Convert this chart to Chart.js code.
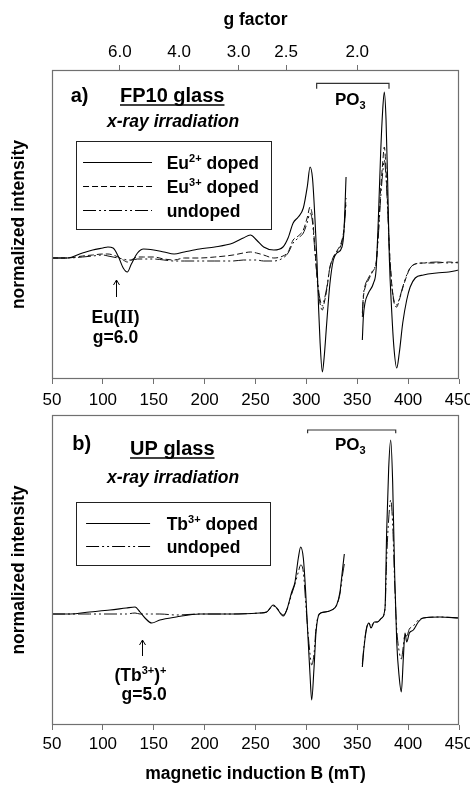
<!DOCTYPE html>
<html><head><meta charset="utf-8">
<script src="https://cdn.jsdelivr.net/npm/chart.js@4.4.1/dist/chart.umd.min.js"></script>
<style>
html,body{margin:0;padding:0;background:#fff;}
#wrap{position:relative;width:470px;height:785px;overflow:hidden;background:#fff;}
#ca{position:absolute;left:0;top:0;}
#cb{position:absolute;left:0;top:405px;}
</style></head><body>
<div id="wrap"><canvas id="ca" width="470" height="415"></canvas><canvas id="cb" width="470" height="380"></canvas></div>
<script>
// ---------- data: panel a) FP10 glass ----------
const fieldA = [50,65,80,90,100,105,110,115,120,124,128,134,140,150,160,170,180,195,210,228,238,245,251,258,268,277,282,287,292,297,301,303.6,306,308.5,310.5,312,313.5,315.7,317.5,320,323,326.5,330,335,337,339,347,355,356,357.6,361,366,368.5,370.7,373,375,376.6,378.3,380,381.5,383.8,386,388.8,391.3,394.7,398.6,402,407,415,428,440,450];
const eu2Doped = [0.00,0.00,0.05,0.08,0.10,0.11,0.10,0.02,-0.10,-0.14,
  -0.06,0.05,0.09,0.08,0.06,0.04,0.06,0.09,0.11,0.15,
  0.20,0.23,0.18,0.11,0.08,0.11,0.20,0.35,0.41,0.50,
  0.72,0.91,0.80,0.38,-0.05,-0.50,-0.85,-1.14,-0.99,-0.65,
  -0.27,-0.02,0.05,0.11,0.28,0.81,null,-0.82,-0.59,-0.45,
  -0.35,-0.25,-0.12,0.38,1.05,1.48,1.66,1.38,0.71,0.01,
  -0.52,-0.89,-1.10,-0.95,-0.65,-0.42,-0.29,-0.20,-0.17,-0.15,
  -0.14,-0.12];
const eu3Doped = [0.00,0.00,0.02,0.03,0.04,0.04,0.03,0.01,-0.02,-0.04,
  -0.02,0.01,0.01,0.01,-0.01,-0.02,0.00,0.00,0.01,0.03,
  0.05,0.06,0.05,0.03,0.00,0.02,0.06,0.18,0.22,0.28,
  0.41,0.51,0.41,0.08,-0.20,-0.36,-0.46,-0.52,-0.45,-0.32,
  -0.10,0.01,0.07,0.18,0.30,0.60,null,-0.59,-0.40,-0.30,
  -0.22,-0.12,-0.06,0.25,0.68,0.95,1.11,0.88,0.50,0.12,
  -0.25,-0.44,-0.49,-0.42,-0.30,-0.18,-0.10,-0.06,-0.05,-0.05,
  -0.04,-0.05];
const undopedA = [0.00,0.00,0.01,0.02,0.03,0.02,0.01,0.00,-0.01,-0.02,
  -0.02,-0.01,-0.01,-0.01,-0.02,-0.03,-0.03,-0.03,-0.03,-0.03,
  -0.02,-0.02,-0.02,-0.03,-0.03,0.00,0.05,0.15,0.20,0.25,
  0.36,0.45,0.36,0.05,-0.18,-0.32,-0.42,-0.48,-0.42,-0.30,
  -0.10,0.00,0.06,0.16,0.28,0.55,null,-0.55,-0.38,-0.28,
  -0.20,-0.11,-0.05,0.22,0.60,0.85,0.98,0.80,0.45,0.10,
  -0.25,-0.42,-0.47,-0.41,-0.29,-0.17,-0.10,-0.06,-0.05,-0.04,
  -0.05,-0.04];

// ---------- data: panel b) UP glass ----------
const fieldB = [50,68,87,107,123,131.6,136.5,141.4,148,156,172,195,228,254,261,267.5,270.8,277.3,280.7,285.6,288.8,292.1,294.4,297,299.3,301.3,303.6,305.2,307.5,309.5,312.7,318.3,324.9,329.8,333,335.7,337.3,346,355,356.6,359.3,361.5,363.5,366.8,369.7,374,377.3,378.9,380.9,382.9,384.8,386.8,388.8,391.3,393.3,395.3,396.9,398.6,401.2,405.1,410,414.9,431.3,450];
const tb3Doped = [0.00,0.00,0.02,0.04,0.06,0.07,0.02,-0.04,-0.09,-0.06,
  -0.03,0.00,0.00,0.01,0.02,0.09,0.06,-0.02,0.04,0.22,
  0.32,0.56,0.67,0.56,0.22,-0.18,-0.61,-0.86,-0.54,-0.18,
  0.00,0.02,0.04,0.09,0.22,0.46,0.60,null,-0.53,-0.34,
  -0.14,-0.09,-0.14,-0.08,-0.08,-0.04,0.06,0.82,1.46,1.74,
  1.32,0.39,-0.28,-0.64,-0.78,-0.44,-0.19,-0.28,-0.19,-0.16,
  -0.08,-0.04,-0.03,-0.04];
const undopedB = [0.00,0.00,0.00,0.00,0.00,0.01,0.00,0.00,0.00,0.00,
  -0.01,0.00,0.00,0.01,0.02,0.08,0.06,-0.01,0.04,0.20,
  0.30,0.42,0.49,0.42,0.12,-0.15,-0.40,-0.51,-0.40,-0.14,
  0.00,0.02,0.04,0.09,0.20,0.40,0.50,null,-0.50,-0.32,
  -0.13,-0.09,-0.12,-0.08,-0.08,-0.04,0.05,0.55,0.95,1.14,
  0.90,0.30,-0.15,-0.38,-0.45,-0.32,-0.20,-0.22,-0.15,-0.12,
  -0.06,-0.04,-0.03,-0.04];

// ---------- ticks ----------
const fieldTicks = [50,100,150,200,250,300,350,400,450];
const gTickLabels = [6.0,4.0,3.0,2.5,2.0];
const G_FIELD = 700; // B (mT) = 700 / g  (X-band)

// ---------- styling ----------
const SANS = "'Liberation Sans', Arial, Helvetica, sans-serif";
const SERIF = "'Liberation Serif', 'Times New Roman', serif";
const AXIS_GREY = '#707070';
const DASH = [6,3];
const DASHDOTDOT = [13,3,2,3,2,3];
Chart.defaults.font.family = SANS;
Chart.defaults.color = '#000';

const bold = s => `bold ${s}px ${SANS}`;
const boldItalic = s => `italic bold ${s}px ${SANS}`;

function pts(xs, ys){ return xs.map((x,i)=>({x:x, y:ys[i]})); }

function drawRuns(ctx, runs, x, y, align){
  let w = 0;
  runs.forEach(r=>{ ctx.font = r.f; r.w = ctx.measureText(r.t).width; w += r.w; });
  let cx = align === 'center' ? x - w/2 : x;
  const left = cx;
  runs.forEach(r=>{ ctx.font = r.f; ctx.fillText(r.t, cx, y + (r.dy||0)); cx += r.w; });
  return {left:left, width:w};
}

const eprPlugin = {
  id:'epr',
  afterDraw(chart, args, o){
    const ctx = chart.ctx, xs = chart.scales.x, ys = chart.scales.y;
    const X = v => xs.getPixelForValue(v), Y = v => ys.getPixelForValue(v);
    const ca = chart.chartArea;
    ctx.save();
    // frame
    ctx.strokeStyle = AXIS_GREY; ctx.lineWidth = 1.2; ctx.setLineDash([]);
    ctx.strokeRect(Math.round(ca.left)+0.5, Math.round(ca.top)+0.5,
      Math.round(ca.right)-Math.round(ca.left)-1, Math.round(ca.bottom)-Math.round(ca.top)-1);
    ctx.fillStyle = '#000'; ctx.textBaseline = 'alphabetic'; ctx.textAlign = 'left';
    // texts
    (o.texts||[]).forEach(t=>{
      const r = drawRuns(ctx, t.runs, X(t.x), Y(t.y), t.align);
      if (t.underline){
        ctx.strokeStyle = '#000'; ctx.lineWidth = 1.6;
        ctx.beginPath(); ctx.moveTo(r.left, Y(t.y)+3); ctx.lineTo(r.left + r.width, Y(t.y)+3); ctx.stroke();
      }
    });
    // bracket
    if (o.bracket){
      const b = o.bracket;
      ctx.strokeStyle = '#333'; ctx.lineWidth = 1.2;
      ctx.beginPath();
      ctx.moveTo(X(b.x1), Y(b.y2)); ctx.lineTo(X(b.x1), Y(b.y1));
      ctx.lineTo(X(b.x2), Y(b.y1)); ctx.lineTo(X(b.x2), Y(b.y2));
      ctx.stroke();
    }
    // arrow
    if (o.arrow){
      const a = o.arrow, ax = Math.round(X(a.x))+0.5, t = Y(a.y1), e = Y(a.y2);
      ctx.strokeStyle = '#000'; ctx.lineWidth = 1;
      ctx.beginPath(); ctx.moveTo(ax, t); ctx.lineTo(ax, e);
      ctx.moveTo(ax-3, t+5); ctx.lineTo(ax, t); ctx.lineTo(ax+3, t+5);
      ctx.stroke();
    }
    // legend
    if (o.legend){
      const L = o.legend;
      ctx.strokeStyle = '#222'; ctx.lineWidth = 1;
      const lx = Math.round(X(L.x1))+0.5, ly = Math.round(Y(L.y1))+0.5;
      ctx.strokeRect(lx, ly, Math.round(X(L.x2)-X(L.x1)), Math.round(Y(L.y2)-Y(L.y1)));
      L.rows.forEach(r=>{
        const ds = chart.data.datasets[r.ds];
        const ry = Math.round(Y(r.y))+0.5;
        ctx.strokeStyle = '#000'; ctx.lineWidth = 1;
        ctx.setLineDash(ds.borderDash || []);
        ctx.beginPath(); ctx.moveTo(X(L.s1), ry); ctx.lineTo(X(L.s2), ry); ctx.stroke();
        ctx.setLineDash([]);
        drawRuns(ctx, r.runs, X(L.tx), ry + 6, 'left');
      });
    }
    ctx.restore();
  }
};

function sup(t){ return {t:t, f:bold(11), dy:-7}; }
function sub(t){ return {t:t, f:bold(11), dy:4}; }
function b(t,s){ return {t:t, f:bold(s||17.5)}; }

function baseOptions(yMin, yMax, bottomH, tickPad, withXTitle, padTop){
  return {
    responsive:false, animation:false, devicePixelRatio:1,
    layout:{padding:{left:0,right:11,top:padTop,bottom:0}},
    elements:{point:{radius:0}, line:{borderWidth:1, borderColor:'#000', cubicInterpolationMode:'monotone'}},
    plugins:{legend:{display:false}, tooltip:{enabled:false}},
    scales:{
      x:{type:'linear', position:'bottom', min:50, max:450,
        afterBuildTicks(s){ s.ticks = fieldTicks.map(v=>({value:v})); },
        ticks:{font:{size:17}, padding:tickPad, maxRotation:0, autoSkip:false, color:'#000'},
        grid:{display:true, drawOnChartArea:false, drawTicks:true, tickLength:5, color:AXIS_GREY},
        border:{display:false},
        title:{display:withXTitle, text:'magnetic induction B (mT)', font:{size:17.5, weight:'bold'}, padding:{top:0,bottom:0}},
        afterFit(s){ s.height = bottomH; s.paddingLeft = 0; s.paddingRight = 0; }
      },
      y:{type:'linear', min:yMin, max:yMax,
        ticks:{display:false}, grid:{display:false}, border:{display:false},
        title:{display:true, text:'normalized intensity', font:{size:17.5, weight:'bold'}, padding:{top:9,bottom:0}},
        afterFit(s){ s.width = 52; s.paddingTop = 0; s.paddingBottom = 0; }
      }
    }
  };
}

// ---------- chart a ----------
const optA = baseOptions(-1.21, 1.88, 36, 6, false, 0);
optA.scales.g = {type:'linear', position:'top', min:50, max:450,
  afterBuildTicks(s){ s.ticks = gTickLabels.map(g=>({value:G_FIELD/g})); },
  ticks:{callback:v=>(G_FIELD/v).toFixed(1), font:{size:17}, padding:2, maxRotation:0, autoSkip:false, color:'#000'},
  grid:{display:true, drawOnChartArea:false, drawTicks:true, tickLength:5, color:AXIS_GREY},
  border:{display:false},
  title:{display:true, text:'g factor', font:{size:17.5, weight:'bold'}, padding:{top:10,bottom:0}},
  afterFit(s){ s.height = 70; s.paddingLeft = 0; s.paddingRight = 0; }
};
optA.plugins.epr = {
  texts:[
    {x:68.4, y:1.56, runs:[b('a)',20)]},
    {x:116.8, y:1.56, runs:[b('FP10 glass',20)], underline:true},
    {x:104, y:1.31, runs:[{t:'x-ray irradiation', f:boldItalic(17.5)}]},
    {x:328.1, y:1.53, runs:[b('PO',17), sub('3')]},
    {x:112.4, y:-0.65, align:'center', runs:[b('Eu('), {t:'II', f:`bold 18px ${SERIF}`}, b(')')]},
    {x:112.4, y:-0.85, align:'center', runs:[b('g=6.0')]}
  ],
  bracket:{x1:310.1, x2:381.2, y1:1.747, y2:1.693},
  arrow:{x:112.9, y1:-0.22, y2:-0.39},
  legend:{x1:73.1, x2:265.2, y1:1.17, y2:0.29, s1:80.5, s2:148.3, tx:162.7,
    rows:[
      {y:0.96, ds:0, runs:[b('Eu'), sup('2+'), b(' doped')]},
      {y:0.72, ds:1, runs:[b('Eu'), sup('3+'), b(' doped')]},
      {y:0.48, ds:2, runs:[b('undoped')]}
    ]}
};
new Chart(document.getElementById('ca'), {
  type:'line',
  data:{datasets:[
    {label:'Eu2+ doped', data:pts(fieldA, eu2Doped), borderColor:'#000', borderWidth:1.1, spanGaps:false},
    {label:'Eu3+ doped', data:pts(fieldA, eu3Doped), borderColor:'#111', borderWidth:1, borderDash:DASH, spanGaps:false},
    {label:'undoped', data:pts(fieldA, undopedA), borderColor:'#111', borderWidth:1, borderDash:DASHDOTDOT, spanGaps:false}
  ]},
  options:optA,
  plugins:[eprPlugin]
});

// ---------- chart b ----------
const optB = baseOptions(-1.11, 1.99, 60, 4, true, 10);
optB.plugins.epr = {
  texts:[
    {x:69.95, y:1.64, runs:[b('b)',20)]},
    {x:126.7, y:1.59, runs:[b('UP glass',20)], underline:true},
    {x:104, y:1.31, runs:[{t:'x-ray irradiation', f:boldItalic(17.5)}]},
    {x:328.1, y:1.64, runs:[b('PO',17), sub('3')]},
    {x:137, y:-0.67, align:'center', runs:[b('(Tb'), sup('3+'), b(')'), sup('+')]},
    {x:140.6, y:-0.86, align:'center', runs:[b('g=5.0')]}
  ],
  bracket:{x1:301.2, x2:387.8, y1:1.84, y2:1.807},
  arrow:{x:138.7, y1:-0.26, y2:-0.42},
  legend:{x1:73.7, x2:264.2, y1:1.12, y2:0.49, s1:83.5, s2:146.4, tx:162.7,
    rows:[
      {y:0.91, ds:0, runs:[b('Tb'), sup('3+'), b(' doped')]},
      {y:0.68, ds:1, runs:[b('undoped')]}
    ]}
};
new Chart(document.getElementById('cb'), {
  type:'line',
  data:{datasets:[
    {label:'Tb3+ doped', data:pts(fieldB, tb3Doped), borderColor:'#000', borderWidth:1.1, spanGaps:false},
    {label:'undoped', data:pts(fieldB, undopedB), borderColor:'#111', borderWidth:1, borderDash:DASHDOTDOT, spanGaps:false}
  ]},
  options:optB,
  plugins:[eprPlugin]
});
</script>
</body></html>
